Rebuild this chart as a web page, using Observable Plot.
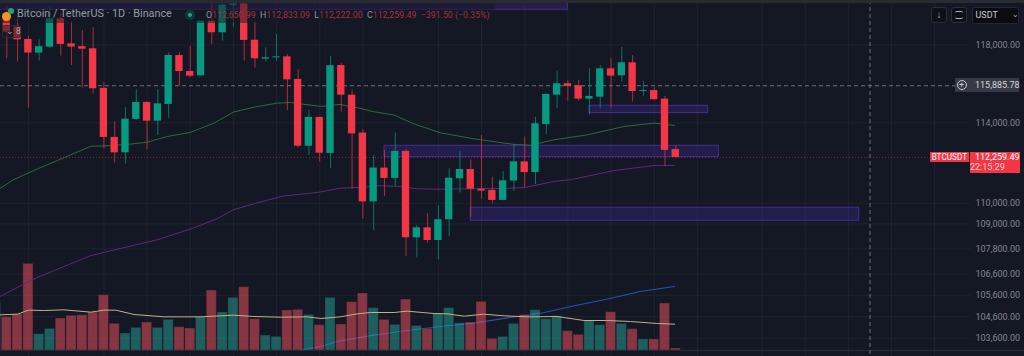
<!DOCTYPE html>
<html><head><meta charset="utf-8">
<script src="https://cdn.jsdelivr.net/npm/d3@7"></script>
<script src="https://cdn.jsdelivr.net/npm/@observablehq/plot@0.6"></script>
<style>
html,body{margin:0;padding:0;background:#141824;}
#c{position:relative;width:1024px;height:356px;overflow:hidden;background:#141824;font-family:Roboto,sans-serif;}
#c>div,#c>figure,#c>svg{position:absolute;margin:0;}
#c svg{background:transparent;display:block;}
.lbl{white-space:nowrap;line-height:1;}
</style></head><body><div id="c"></div>
<script>
const open_ = [119640,118940,118290,117580,117890,119380,118060,117910,117800,115750,113260,112490,114170,115030,114080,114930,117450,116620,116400,119250,118640,120090,120170,118250,117260,117330,117380,116210,112820,114270,112460,116930,115400,113480,110070,111730,111220,112560,108330,108810,108200,109200,111200,111660,110690,110630,110140,111090,112040,111510,113910,115400,115990,115880,115200,115300,116760,116400,117070,115590,115640,115200,112650.99];
const high = [120000,119470,118450,118270,120000,119640,119200,118760,118900,116040,114060,114760,115680,115080,115680,117580,117590,117920,119250,120170,120260,120350,120530,119200,117850,118550,117510,116710,114620,114280,117400,117050,115640,113650,112360,112610,113480,112640,108920,109490,109880,111700,112560,112140,113360,111280,111560,112910,113280,114280,115470,116640,116160,116160,116760,116930,117280,117870,117450,116110,115780,115340,112833.09];
const low = [117280,117110,114740,117160,117800,117420,116930,115760,115470,112690,111980,111930,114120,112640,113360,114230,115870,116300,116380,118030,118200,118940,117160,116800,117110,117140,114620,112740,112360,112030,111700,114540,110680,109230,108680,110330,110820,107440,107360,108070,107280,108390,110500,109310,110200,109980,110120,110580,110740,110910,113410,114720,115100,115100,114390,114710,114740,116070,115050,115350,115160,111810,112222];
const close_ = [118680,118270,117580,117910,119380,118030,117890,117780,115730,113260,112490,114180,115030,114080,114960,117450,116620,116380,119250,118640,120100,120170,118240,117280,117330,117380,116190,112820,114270,112470,116920,115400,113440,110070,111730,111220,112560,108330,108810,108200,109200,111230,111660,110690,110600,110140,111100,112040,111510,113950,115440,115990,115850,115200,115340,116760,116380,117070,115590,115640,115170,112610,112259.49];
const volume = [100,109,260,49,65,96,104,106,114,166,80,51,68,84,68,92,70,66,100,180,114,158,190,94,45,41,120,122,107,76,158,78,145,171,127,92,77,153,74,65,110,127,82,84,146,35,41,80,106,121,94,103,58,47,90,76,115,80,64,33,33,141,6];
const volumeBefore = 144;
const maGreenDay = [-0.6,0.6,2.5,4.7,7.8,9.3,11.2,13,14.9,17,19.2,21,22.9,25,26.3,27.2,29.1,30.9,32.5,34,35.9,37.7,40.2,43.3,47,48.5,50.7,53.8,57.2,60,61.9];
const maGreen = [110740,111150,111610,112110,112820,112840,112910,113020,113310,113510,113980,114540,114790,114990,115030,114960,114830,114930,114760,114560,114390,113950,113490,113190,112910,112870,113140,113390,113810,113980,113860];
const maPurpleDay = [-0.6,2.2,4.4,7.8,9.9,13.9,17.3,19.5,21,22.9,25.7,28.8,30.9,32.8,34.6,36.5,38,40.2,43.3,46.4,48.1,50.7,52.2,56.3,60,61.9];
const maPurple = [105550,106300,106770,107480,107740,108230,108800,109250,109680,109980,110360,110530,110740,110780,110860,110820,110710,110690,110710,110730,110780,111070,111150,111610,111860,111860];
const volMaDay = [-0.6,1,2,3.4,5.3,7.8,9,10.1,11.8,14.6,18,21,22.9,25.4,27.8,29.1,30.9,32.5,33.7,35.9,37.1,39.6,40.8,42.4,44.2,46.1,48.2,51,53.5,55.6,57.8,60.3,61.9];
const volMa = [107,109,121,120,122,115,121,121,108,101,101,106,102,100,101,96,101,110,114,114,118,111,110,103,109,104,101,102,90,90,87,81,79];
const volLongDay = [27.2,29.1,30.9,34,37.1,40.2,43.3,46.4,49.5,52.6,55.6,58.7,61.9];
const volLong = [1,12,29,46,60,72,82,98,112,134,154,177,192];
const zoneStart = [-1,54,35,43];
const zoneEnd = [52,65,66,79];
const zoneTop = [120500,114860,112840,109780];
const zoneBottom = [119860,114490,112280,109150];
const priceTicks = [118000,114000,110000,109000,107800,106600,105600,104600,103600];
const gridDays = [2,9,13,17,21,25,29,33,40,44,48,52,56,60,64,70,74,78,82,86];
const crossDay = 80;
const crossPrice = 115885.78;
const lastPrice = 112259.49;

const RED="#f23645", GREEN="#089981", GRID="#1f232d";
const candles = open_.map((o,i)=>({i,o,h:high[i],l:low[i],c:close_[i],v:volume[i]}));
const down = candles.filter(d=>d.c<d.o), up = candles.filter(d=>d.c>=d.o);
const upVol = [{i:-1,v:volumeBefore},...up];
const zones = zoneStart.map((s,i)=>({s,e:zoneEnd[i],t:zoneTop[i],b:zoneBottom[i]}));
const pts = (xs,ys)=>xs.map((x,i)=>({x,y:ys[i]}));

const xScale = {type:"linear",domain:[-0.584,94.32],range:[0,1024]};
const priceY = {type:"log",domain:[120351,102774],range:[0,356]};
const frame = {width:1024,height:356,marginTop:0,marginBottom:0,marginLeft:0,marginRight:54,
  style:{background:"transparent",fontFamily:"Roboto, sans-serif",overflow:"hidden"}};

const base = Plot.plot({...frame,x:{...xScale,axis:null},y:{...priceY,axis:null},marks:[
  Plot.ruleX(gridDays,{stroke:GRID,strokeWidth:1}),
  Plot.ruleY(priceTicks,{stroke:GRID,strokeWidth:1}),
  Plot.axisY(priceTicks,{anchor:"right",tickSize:0,tickPadding:5,tickFormat:d3.format(",.2f"),color:"#83868f",fontSize:9,label:null})
]});

const vol = Plot.plot({...frame,marginRight:0,x:{...xScale,axis:null},y:{type:"linear",domain:[0,300],range:[350,250],axis:null},marks:[
  Plot.ruleY([0],{stroke:"#2a2e39",strokeWidth:1}),
  Plot.line(pts(volLongDay,volLong),{x:"x",y:"y",stroke:"#2850b4",strokeWidth:1.1}),
  Plot.rectY(down,{x1:d=>d.i-0.47,x2:d=>d.i+0.47,y1:0,y2:"v",fill:"#f7525f",fillOpacity:0.5,stroke:"#141824",strokeOpacity:0.35}),
  Plot.rectY(upVol,{x1:d=>d.i-0.47,x2:d=>d.i+0.47,y1:0,y2:"v",fill:"#26a69a",fillOpacity:0.5,stroke:"#141824",strokeOpacity:0.35}),
  Plot.line(pts(volMaDay,volMa),{x:"x",y:"y",stroke:"#bfb382",strokeWidth:1})
]});

const price = Plot.plot({...frame,x:{...xScale,axis:null},y:{...priceY,axis:null},marks:[
  Plot.rect(zones,{x1:"s",x2:"e",y1:"t",y2:"b",fill:"#4a2aa8",fillOpacity:0.3,stroke:"#452c92",strokeWidth:1}),
  Plot.line(pts(maGreenDay,maGreen),{x:"x",y:"y",stroke:"#2f6a3c",strokeWidth:1}),
  Plot.line(pts(maPurpleDay,maPurple),{x:"x",y:"y",stroke:"#60277a",strokeWidth:1}),
  Plot.ruleY([lastPrice],{stroke:RED,strokeOpacity:0.5,strokeDasharray:"1,2",strokeWidth:1}),
  Plot.ruleX([crossDay],{stroke:"#6f727b",strokeDasharray:"4,3",strokeWidth:1}),
  Plot.ruleY([crossPrice],{stroke:"#6f727b",strokeDasharray:"4,3",strokeWidth:1}),
  Plot.ruleX(down,{x:"i",y1:"l",y2:"h",stroke:RED,strokeOpacity:0.7,strokeWidth:1}),
  Plot.ruleX(up,{x:"i",y1:"l",y2:"h",stroke:GREEN,strokeOpacity:0.7,strokeWidth:1}),
  Plot.rect(down,{x1:d=>d.i-0.34,x2:d=>d.i+0.34,y1:"o",y2:"c",fill:RED}),
  Plot.rect(up,{x1:d=>d.i-0.34,x2:d=>d.i+0.34,y1:"o",y2:"c",fill:GREEN})
]});

const host = document.getElementById("c");
[base,vol,price].forEach(p=>{p.style.position="absolute";p.style.left="0";p.style.top="0";host.appendChild(p);});

function box(css,html){const d=document.createElement("div");d.style.cssText=css;if(html!=null)d.innerHTML=html;d.className="lbl";host.appendChild(d);return d;}
// chrome
box("left:0;top:0;width:1024px;height:3px;background:#2a2b2e;");
box("left:0;top:3px;width:495px;height:20px;background:rgba(20,24,36,.5);");
// legend
box("left:17px;top:9px;font-size:10.8px;color:#959aa5;","Bitcoin / TetherUS · 1D · Binance");
box("left:2px;top:12px;width:9px;height:9px;border-radius:50%;background:#f7931a;");
box("left:8px;top:8px;width:6px;height:6px;border-radius:50%;background:#26a17b;");
box("left:185px;top:10px;width:10px;height:10px;border-radius:50%;background:rgba(8,153,129,.25);");
box("left:188px;top:13px;width:4px;height:4px;border-radius:50%;background:#0fae90;");
const gr=s=>`<span style="color:#8f939d">${s}</span>`;
box("left:206px;top:10.5px;font-size:8.8px;color:#a8303c;letter-spacing:0;",
  `${gr("O")}112,650.99 &nbsp;${gr("H")}112,833.09 &nbsp;${gr("L")}112,222.00 &nbsp;${gr("C")}112,259.49 &nbsp;−391.50 (−0.35%)`);
box("left:2px;top:25px;width:19px;height:13px;border:1px solid #2a2e39;border-radius:3px;box-sizing:border-box;background:rgba(20,24,36,.5);");
box("left:6px;top:27px;font-size:8.5px;color:#a0a4ae;","⌄&nbsp;8");
// buttons
box("left:931px;top:6.5px;width:16px;height:16px;background:#0d1017;border:1px solid #2a2e39;border-radius:3px;box-sizing:border-box;text-align:center;font-size:10px;line-height:14px;color:#b2b5be;","↓");
box("left:950.5px;top:6.5px;width:16px;height:16px;background:#0d1017;border:1px solid #2a2e39;border-radius:3px;box-sizing:border-box;");
box("left:954.5px;top:11px;width:8px;height:6px;border-top:1px solid #b2b5be;border-bottom:1px solid #b2b5be;border-radius:2px;");
box("left:972px;top:6.5px;width:47px;height:17px;background:#0a0c12;border:1px solid #23262f;border-radius:3px;box-sizing:border-box;");
box("left:975.5px;top:10.5px;font-size:9px;color:#c8cad0;","USDT");
box("left:1012px;top:11px;font-size:8px;color:#b2b5be;","⌄");
// price labels bound to the price scale
const ys = price.scale("y");
const yCross = ys.apply(crossPrice), yLast = ys.apply(lastPrice);
box(`left:954.7px;top:${yCross-7}px;width:15px;height:14px;background:#363a45;`);
box(`left:956.5px;top:${yCross-5}px;width:10px;height:10px;border:1px solid #c8cad0;border-radius:50%;box-sizing:border-box;text-align:center;font-size:9px;line-height:8px;color:#c8cad0;`,"+");
box(`left:970px;top:${yCross-7}px;width:49px;height:14px;background:#363a45;color:#d4d6dc;font-size:9px;line-height:14px;text-indent:5px;`,d3.format(",.2f")(crossPrice));
box(`left:930px;top:${yLast-5}px;width:38.7px;height:10px;background:${RED};color:#fff;font-size:8.2px;line-height:10px;text-align:center;`,"BTCUSDT");
box(`left:970px;top:${yLast-5}px;width:50px;height:21px;background:${RED};color:#fff;font-size:9px;line-height:10px;text-indent:5px;white-space:pre;padding-top:0.5px;box-sizing:border-box;`,
  d3.format(",.2f")(lastPrice)+"\n<span style='color:#ffd0d4'>22:15:29</span>");
</script></body></html>
